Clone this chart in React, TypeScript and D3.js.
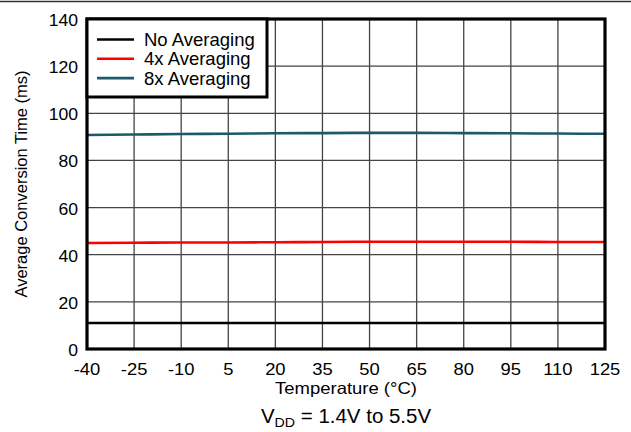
import React from "react";
import * as d3 from "d3";

const temps = [-40, -25, -10, 5, 20, 35, 50, 65, 80, 95, 110, 125];
const noAvg = [11, 11, 11, 11, 11, 11, 11, 11, 11, 11, 11, 11];
const avg4x = [45.0, 45.1, 45.2, 45.2, 45.3, 45.4, 45.5, 45.5, 45.5, 45.5, 45.4, 45.4];
const avg8x = [90.8, 91.0, 91.2, 91.3, 91.5, 91.6, 91.7, 91.7, 91.6, 91.5, 91.4, 91.3];
const yTicks = [0, 20, 40, 60, 80, 100, 120, 140];

const series = [
    { name: "No Averaging", values: noAvg, color: "#000000" },
    { name: "4x Averaging", values: avg4x, color: "#ff0000" },
    { name: "8x Averaging", values: avg8x, color: "#1b5a6a" },
];

const W = 631;
const H = 432;
const margin = { left: 87, right: 26, top: 19, bottom: 83 };

// text stretched horizontally like the source image
const SText = ({ x, y, sx = 1, anchor = "start", size, children }: any) => (
    <text
        transform={`translate(${x},${y}) scale(${sx},1)`}
        fontSize={size}
        textAnchor={anchor}
        fill="#000"
    >
        {children}
    </text>
);

const App = () => {
    const x = d3.scaleLinear().domain([-40, 125]).range([margin.left, W - margin.right]);
    const y = d3.scaleLinear().domain([0, 140]).range([H - margin.bottom, margin.top]);
    const line = d3.line<number>()
        .x((_, i) => x(temps[i]))
        .y((d) => y(d))
        .curve(d3.curveMonotoneX);

    const font = "'Liberation Sans', Arial, sans-serif";
    const cx = (x(-40) + x(125)) / 2;

    return (
        <svg
            width={W}
            height={H}
            style={{ position: "absolute", left: 0, top: 0, background: "#fff" }}
            fontFamily={font}
        >
            <line x1={0} x2={W} y1={1.5} y2={1.5} stroke="#333" strokeWidth={1.5} />

            {/* grid */}
            {temps.slice(1, -1).map((t) => (
                <line key={"v" + t} x1={x(t)} x2={x(t)} y1={y(140)} y2={y(0)} stroke="#444" strokeWidth={1.3} />
            ))}
            {yTicks.slice(1, -1).map((v) => (
                <line key={"h" + v} x1={x(-40)} x2={x(125)} y1={y(v)} y2={y(v)} stroke="#444" strokeWidth={1.3} />
            ))}

            {/* series */}
            {series.map((s) => (
                <path key={s.name} d={line(s.values) ?? ""} fill="none" stroke={s.color} strokeWidth={2.6} />
            ))}

            {/* frame */}
            <rect
                x={x(-40)}
                y={y(140)}
                width={x(125) - x(-40)}
                height={y(0) - y(140)}
                fill="none"
                stroke="#000"
                strokeWidth={3.2}
            />

            {/* legend */}
            <g>
                <rect x={x(-40)} y={y(140)} width={180} height={78} fill="#fff" stroke="#000" strokeWidth={3} />
                {series.map((s, i) => (
                    <g key={s.name} transform={`translate(${x(-40) + 10},${y(140) + 20.5 + i * 19.3})`}>
                        <line x1={0} x2={37} y1={0} y2={0} stroke={s.color} strokeWidth={2.6} />
                        <text x={47} y={6.5} fontSize={18.5} fill="#000">{s.name}</text>
                    </g>
                ))}
            </g>

            {/* y ticks */}
            {yTicks.map((v) => (
                <SText key={"yl" + v} x={x(-40) - 9} y={y(v) + 7} sx={1.1} size={16} anchor="end">
                    {v}
                </SText>
            ))}
            {/* x ticks */}
            {temps.map((t) => (
                <SText key={"xl" + t} x={x(t)} y={y(0) + 25.5} sx={1.15} size={16} anchor="middle">
                    {t}
                </SText>
            ))}

            <SText x={cx} y={y(0) + 45} sx={1.12} size={16.5} anchor="middle">
                Temperature (°C)
            </SText>
            <text
                transform={`translate(27,${(y(0) + y(140)) / 2}) rotate(-90)`}
                fontSize={16.5}
                textAnchor="middle"
                fill="#000"
            >
                Average Conversion Time (ms)
            </text>
            <SText x={cx} y={y(0) + 74} sx={1.05} size={19.5} anchor="middle">
                V<tspan fontSize={13.5} dy={4}>DD</tspan>
                <tspan dy={-4}> = 1.4V to 5.5V</tspan>
            </SText>
        </svg>
    );
};

export default App;
